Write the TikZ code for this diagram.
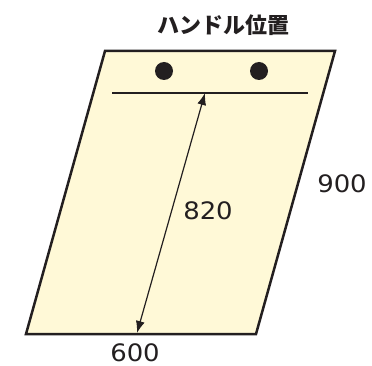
\documentclass[tikz,border=0pt]{standalone}
\usepackage{fontspec}
\setmainfont{DejaVu Sans}
\newfontfamily\jpfont{Noto Sans CJK JP}
\usetikzlibrary{arrows.meta}
\definecolor{panel}{RGB}{255,249,215}
\definecolor{ink}{RGB}{35,31,32}
\tikzset{-dim-/.style={{Latex[length=12pt,width=9pt]}-{Latex[length=12pt,width=9pt]},line width=1.2pt,draw=ink}}
\tikzset{-num-/.style={text=ink,font=\fontsize{24}{24}\selectfont,inner sep=0pt,xscale=1.08}}

\begin{document}
\begin{tikzpicture}[x=1pt,y=-1pt]
                \useasboundingbox (0,0) rectangle (372,366);

                % Door
                \filldraw[fill=panel,draw=ink,line width=2.5pt] (105,51) -- (335,51) -- (256,334) -- (26,334) -- cycle;

                % Handle line
                \coordinate (hl) at (112,93);
                \coordinate (hr) at (308,93);
                \draw[ink,line width=1.4pt] (hl) -- (hr);

                % Handles
                \fill[ink] (164,71) circle (9);
                \fill[ink] (259,71) circle (9);

                % Height
                \coordinate (top) at (205,93);
                \coordinate (bot) at (137,333);
                \draw[-dim-] (top) -- (bot);

                % Labels
                \node[text=ink,font=\jpfont\bfseries\fontsize{22}{22}\selectfont,inner sep=0pt] (title) at (223,25) {ハンドル位置};
                \node[-num-] (h) at (208,211) {820};
                \node[-num-] (side) at (342,184) {900};
                \node[-num-] (width) at (135,353) {600};
            \end{tikzpicture}
\end{document}
